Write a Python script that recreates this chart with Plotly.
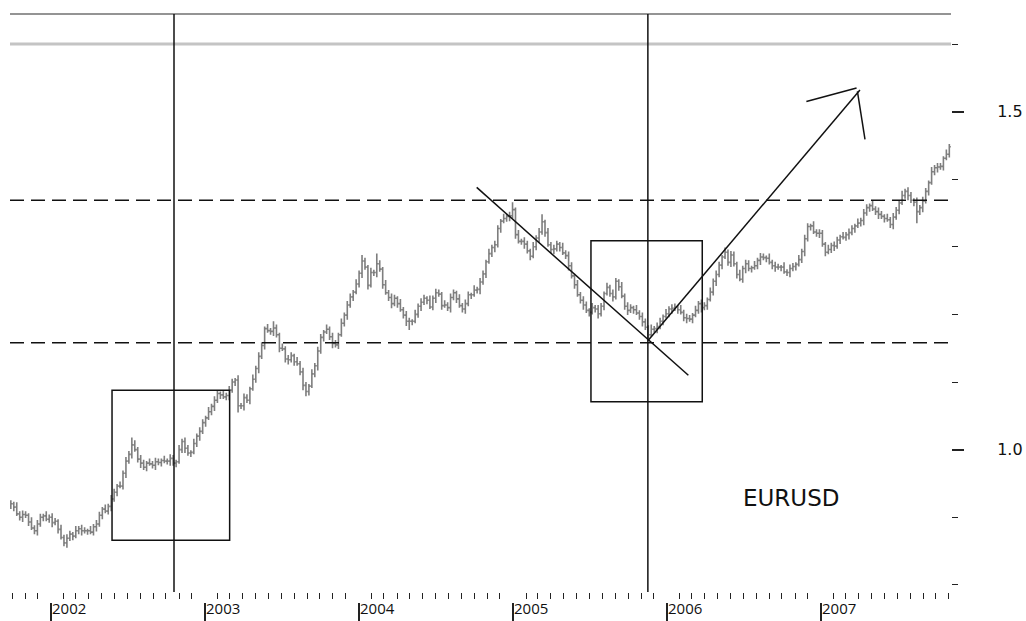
import pandas as pd
import plotly.graph_objects as go

# ---------------- data (weekly EURUSD) ----------------
START_DATE = "2001-09-28"
FIRST_OPEN = 0.916

CLOSE = [
    .920, .915, .905, .900, .904, .903, .893, .884, .880, .890,
    .900, .902, .897, .900, .892, .894, .882, .870, .862, .869,
    .875, .872, .880, .883, .880, .880, .880, .878, .886, .890,
    .903, .912, .909, .916, .927, .937, .946, .946, .965, .983,
    .993, 1.007, 1.000, .986, .980, .974, .980, .979, .977, .982,
    .981, .984, .983, .983, .987, .980, .982, 1.000, 1.012, 1.002,
    .995, .996, 1.009, 1.020, 1.027, 1.040, 1.047, 1.056, 1.064, 1.073,
    1.083, 1.081, 1.078, 1.080, 1.088, 1.100, 1.103, 1.065, 1.065, 1.077,
    1.073, 1.090, 1.104, 1.120, 1.138, 1.154, 1.179, 1.176, 1.175, 1.180,
    1.170, 1.150, 1.149, 1.134, 1.133, 1.139, 1.130, 1.127, 1.115, 1.095,
    1.086, 1.094, 1.112, 1.124, 1.146, 1.166, 1.174, 1.178, 1.167, 1.157,
    1.155, 1.170, 1.187, 1.199, 1.214, 1.226, 1.233, 1.245, 1.261, 1.279,
    1.270, 1.243, 1.262, 1.262, 1.275, 1.267, 1.244, 1.232, 1.225, 1.216,
    1.224, 1.216, 1.207, 1.199, 1.190, 1.190, 1.190, 1.200, 1.212, 1.218,
    1.224, 1.221, 1.211, 1.224, 1.232, 1.230, 1.213, 1.214, 1.210, 1.225,
    1.232, 1.223, 1.213, 1.208, 1.216, 1.229, 1.229, 1.236, 1.237, 1.248,
    1.260, 1.278, 1.290, 1.299, 1.303, 1.327, 1.338, 1.342, 1.345, 1.346,
    1.355, 1.318, 1.308, 1.308, 1.304, 1.294, 1.286, 1.300, 1.313, 1.322,
    1.337, 1.321, 1.303, 1.296, 1.297, 1.304, 1.299, 1.291, 1.287, 1.272,
    1.257, 1.244, 1.229, 1.221, 1.214, 1.206, 1.203, 1.210, 1.208, 1.201,
    1.212, 1.231, 1.240, 1.231, 1.226, 1.249, 1.241, 1.227, 1.212, 1.206,
    1.210, 1.207, 1.202, 1.197, 1.189, 1.181, 1.170, 1.178, 1.179, 1.182,
    1.190, 1.197, 1.201, 1.208, 1.209, 1.211, 1.207, 1.203, 1.195, 1.194,
    1.193, 1.199, 1.206, 1.216, 1.210, 1.213, 1.222, 1.233, 1.249, 1.259,
    1.273, 1.285, 1.292, 1.277, 1.288, 1.275, 1.259, 1.252, 1.268, 1.275,
    1.268, 1.269, 1.272, 1.280, 1.285, 1.284, 1.283, 1.277, 1.272, 1.270,
    1.270, 1.270, 1.263, 1.262, 1.268, 1.271, 1.274, 1.281, 1.293, 1.312,
    1.330, 1.331, 1.322, 1.320, 1.320, 1.304, 1.292, 1.296, 1.302, 1.301,
    1.310, 1.315, 1.314, 1.318, 1.321, 1.327, 1.331, 1.335, 1.339, 1.350,
    1.358, 1.361, 1.356, 1.352, 1.348, 1.345, 1.342, 1.340, 1.333, 1.344,
    1.354, 1.365, 1.376, 1.382, 1.376, 1.369, 1.366, 1.352, 1.358, 1.368,
    1.382, 1.395, 1.411, 1.417, 1.418, 1.419, 1.431, 1.437, 1.448,
]

HIGH = [
    .925, .923, .922, .909, .910, .909, .906, .900, .888, .896,
    .905, .905, .909, .904, .906, .899, .897, .889, .874, .875,
    .880, .878, .887, .887, .889, .885, .883, .887, .890, .896,
    .908, .915, .919, .920, .933, .942, .949, .953, .969, .989,
    .998, 1.018, 1.014, 1.004, .992, .985, .983, .987, .983, .988,
    .987, .987, .991, .987, .993, .992, .985, 1.007, 1.016, 1.018,
    1.007, .999, 1.016, 1.024, 1.033, 1.045, 1.050, 1.063, 1.068, 1.079,
    1.088, 1.086, 1.088, 1.084, 1.094, 1.105, 1.106, 1.110, 1.069, 1.083,
    1.082, 1.093, 1.111, 1.124, 1.144, 1.159, 1.182, 1.186, 1.180, 1.190,
    1.185, 1.173, 1.157, 1.153, 1.140, 1.144, 1.142, 1.137, 1.131, 1.121,
    1.100, 1.097, 1.119, 1.128, 1.152, 1.171, 1.177, 1.185, 1.182, 1.173,
    1.162, 1.173, 1.194, 1.203, 1.220, 1.231, 1.236, 1.252, 1.265, 1.288,
    1.284, 1.273, 1.269, 1.266, 1.290, 1.280, 1.270, 1.251, 1.236, 1.231,
    1.229, 1.227, 1.223, 1.211, 1.205, 1.195, 1.193, 1.207, 1.216, 1.224,
    1.229, 1.227, 1.228, 1.228, 1.238, 1.237, 1.233, 1.221, 1.218, 1.231,
    1.237, 1.235, 1.230, 1.217, 1.222, 1.234, 1.232, 1.243, 1.241, 1.254,
    1.265, 1.281, 1.297, 1.303, 1.309, 1.332, 1.341, 1.349, 1.349, 1.352,
    1.366, 1.358, 1.325, 1.312, 1.314, 1.309, 1.297, 1.307, 1.317, 1.328,
    1.348, 1.340, 1.328, 1.307, 1.303, 1.309, 1.307, 1.306, 1.295, 1.293,
    1.277, 1.260, 1.251, 1.233, 1.227, 1.219, 1.209, 1.217, 1.214, 1.214,
    1.217, 1.234, 1.247, 1.244, 1.237, 1.254, 1.252, 1.248, 1.231, 1.218,
    1.215, 1.213, 1.214, 1.206, 1.203, 1.194, 1.184, 1.185, 1.183, 1.188,
    1.195, 1.200, 1.208, 1.212, 1.215, 1.216, 1.214, 1.214, 1.207, 1.201,
    1.199, 1.202, 1.213, 1.220, 1.222, 1.218, 1.225, 1.240, 1.253, 1.265,
    1.278, 1.288, 1.299, 1.296, 1.294, 1.293, 1.278, 1.266, 1.272, 1.281,
    1.280, 1.272, 1.279, 1.284, 1.291, 1.290, 1.287, 1.290, 1.281, 1.278,
    1.275, 1.273, 1.277, 1.267, 1.274, 1.276, 1.277, 1.288, 1.297, 1.318,
    1.335, 1.334, 1.338, 1.326, 1.326, 1.325, 1.307, 1.303, 1.306, 1.308,
    1.315, 1.318, 1.322, 1.322, 1.327, 1.332, 1.334, 1.342, 1.343, 1.356,
    1.363, 1.364, 1.368, 1.360, 1.358, 1.353, 1.348, 1.349, 1.344, 1.350,
    1.359, 1.368, 1.383, 1.386, 1.388, 1.381, 1.372, 1.373, 1.362, 1.374,
    1.387, 1.398, 1.418, 1.421, 1.424, 1.424, 1.434, 1.444, 1.452,
]

LOW = [
    .912, .909, .902, .895, .893, .899, .887, .881, .875, .873,
    .886, .894, .894, .892, .885, .888, .876, .867, .857, .855,
    .865, .866, .869, .875, .873, .876, .874, .875, .873, .879,
    .886, .897, .906, .904, .909, .923, .931, .943, .941, .958,
    .979, .987, .997, .981, .973, .970, .968, .976, .972, .970,
    .977, .975, .980, .978, .976, .976, .974, .979, .995, .995,
    .991, .989, .993, 1.004, 1.013, 1.023, 1.034, 1.044, 1.051, 1.057,
    1.069, 1.075, 1.075, 1.073, 1.073, 1.084, 1.094, 1.055, 1.060, 1.058,
    1.069, 1.067, 1.087, 1.099, 1.113, 1.134, 1.148, 1.173, 1.170, 1.168,
    1.166, 1.144, 1.146, 1.129, 1.126, 1.129, 1.124, 1.124, 1.110, 1.088,
    1.079, 1.080, 1.091, 1.107, 1.117, 1.142, 1.160, 1.171, 1.162, 1.150,
    1.151, 1.149, 1.167, 1.182, 1.192, 1.210, 1.220, 1.230, 1.240, 1.254,
    1.266, 1.237, 1.240, 1.257, 1.255, 1.263, 1.238, 1.229, 1.220, 1.209,
    1.212, 1.210, 1.204, 1.194, 1.183, 1.177, 1.184, 1.187, 1.195, 1.205,
    1.214, 1.215, 1.208, 1.206, 1.217, 1.226, 1.207, 1.210, 1.205, 1.203,
    1.221, 1.217, 1.210, 1.203, 1.201, 1.212, 1.223, 1.226, 1.231, 1.230,
    1.244, 1.254, 1.275, 1.285, 1.292, 1.299, 1.321, 1.335, 1.337, 1.338,
    1.342, 1.312, 1.305, 1.303, 1.297, 1.290, 1.280, 1.283, 1.295, 1.306,
    1.318, 1.315, 1.300, 1.291, 1.289, 1.293, 1.293, 1.288, 1.282, 1.265,
    1.253, 1.238, 1.226, 1.216, 1.207, 1.202, 1.197, 1.200, 1.203, 1.194,
    1.197, 1.206, 1.228, 1.226, 1.219, 1.222, 1.235, 1.224, 1.207, 1.199,
    1.202, 1.201, 1.199, 1.192, 1.182, 1.177, 1.164, 1.167, 1.173, 1.172,
    1.178, 1.184, 1.194, 1.196, 1.201, 1.205, 1.201, 1.200, 1.190, 1.187,
    1.189, 1.187, 1.196, 1.201, 1.203, 1.206, 1.207, 1.219, 1.228, 1.242,
    1.255, 1.267, 1.282, 1.272, 1.270, 1.271, 1.253, 1.249, 1.247, 1.261,
    1.264, 1.262, 1.266, 1.267, 1.273, 1.280, 1.277, 1.274, 1.267, 1.263,
    1.266, 1.264, 1.260, 1.257, 1.255, 1.264, 1.265, 1.271, 1.276, 1.286,
    1.308, 1.324, 1.319, 1.315, 1.313, 1.300, 1.286, 1.289, 1.291, 1.294,
    1.297, 1.304, 1.311, 1.309, 1.311, 1.317, 1.321, 1.328, 1.330, 1.332,
    1.346, 1.352, 1.353, 1.347, 1.341, 1.341, 1.336, 1.337, 1.328, 1.326,
    1.340, 1.348, 1.362, 1.371, 1.369, 1.365, 1.360, 1.335, 1.347, 1.351,
    1.364, 1.376, 1.392, 1.406, 1.410, 1.414, 1.413, 1.428, 1.432,
]

YEARS = [2002, 2003, 2004, 2005, 2006, 2007]
Y_MAJOR_TICKS = [1.0, 1.5]
SERIES_NAME = "EURUSD"

# chart drawings (data coordinates)
RESISTANCE_LEVELS = [1.369, 1.158]          # dashed horizontals
GRAY_LEVEL = 1.6                             # light gray horizontal
VERTICAL_DATES = ["2002-10-20", "2005-11-17"]
BOXES = [("2002-05-26", "2003-03-01", 0.866, 1.088),
         ("2005-07-05", "2006-03-26", 1.071, 1.309)]
TREND_LINES = [("2004-10-07", 1.388, "2006-02-21", 1.110),
               ("2005-11-17", 1.161, "2007-04-04", 1.532),
               ("2007-03-27", 1.535, "2006-11-28", 1.515),
               ("2007-03-29", 1.530, "2007-04-16", 1.459)]
LABEL_POS = ("2006-10-24", 0.928)

X_RANGE = ["2001-09-26", "2007-11-06"]
Y_RANGE = [0.7894, 1.6444]

n = len(CLOSE)
dates = pd.date_range(START_DATE, periods=n, freq="7D")
OPEN = [FIRST_OPEN] + CLOSE[:-1]

BAR = "#7e7e7e"
INK = "#111111"

fig = go.Figure()
fig.add_trace(go.Ohlc(
    x=dates, open=OPEN, high=HIGH[:n], low=LOW[:n], close=CLOSE,
    increasing=dict(line=dict(color=BAR, width=1.6)),
    decreasing=dict(line=dict(color=BAR, width=1.6)),
    tickwidth=0.5, showlegend=False, hoverinfo="skip",
))
# helper trace so the year-separator axis is drawn
fig.add_trace(go.Scatter(
    x=[f"{y}-01-01" for y in YEARS], y=[None] * len(YEARS),
    xaxis="x2", yaxis="y", mode="markers", showlegend=False, hoverinfo="skip",
))

shapes = []
shapes.append(dict(type="line", xref="x domain", yref="y domain", x0=0, x1=1, y0=1, y1=1,
                   line=dict(color="#707070", width=1.5)))
shapes.append(dict(type="line", xref="x domain", yref="y", x0=0, x1=1, y0=GRAY_LEVEL, y1=GRAY_LEVEL,
                   line=dict(color="#c4c4c4", width=3)))
for lv in RESISTANCE_LEVELS:
    shapes.append(dict(type="line", xref="x domain", yref="y", x0=0, x1=1, y0=lv, y1=lv,
                       line=dict(color=INK, width=1.5, dash="14px,7px")))
for d in VERTICAL_DATES:
    shapes.append(dict(type="line", xref="x", yref="y domain", x0=d, x1=d, y0=0, y1=1,
                       line=dict(color=INK, width=1.5)))
for (xa, xb, ya, yb) in BOXES:
    shapes.append(dict(type="rect", xref="x", yref="y", x0=xa, x1=xb, y0=ya, y1=yb,
                       line=dict(color=INK, width=1.5), fillcolor="rgba(0,0,0,0)"))
for (xa, ya, xb, yb) in TREND_LINES:
    shapes.append(dict(type="line", xref="x", yref="y", x0=xa, x1=xb, y0=ya, y1=yb,
                       line=dict(color=INK, width=1.5)))

annotations = []
for yr in YEARS:
    annotations.append(dict(x=f"{yr}-01-01", xref="x", y=0, yref="paper", yanchor="top",
                            xanchor="left", xshift=0, yshift=5, borderpad=0, text=str(yr),
                            showarrow=False,
                            font=dict(family="Open Sans", size=15, color=INK)))
annotations.append(dict(x=LABEL_POS[0], y=LABEL_POS[1], xref="x", yref="y", text=SERIES_NAME,
                        showarrow=False, font=dict(family="DejaVu Sans", size=23, color=INK)))

H, W = 621, 1026
MT, MB = 14, 19
paper_h = H - MT - MB

fig.update_layout(
    width=W, height=H,
    margin=dict(l=10, r=75, t=MT, b=MB, pad=0, autoexpand=False),
    paper_bgcolor="white", plot_bgcolor="white",
    shapes=shapes, annotations=annotations,
    hovermode=False,
    xaxis=dict(type="date", range=X_RANGE, anchor="y", automargin=False, showgrid=False,
               zeroline=False, showline=False, showticklabels=False, ticks="outside",
               ticklen=0, tick0="2002-01-01", dtick="M12",
               minor=dict(dtick="M1", tick0="2002-01-01", ticks="outside", ticklen=6,
                          tickwidth=1.2, tickcolor="#222"),
               rangeslider=dict(visible=False), fixedrange=True),
    xaxis2=dict(type="date", range=X_RANGE, overlaying="x", anchor="free", position=0,
                side="bottom", automargin=False, showgrid=False, zeroline=False,
                showline=False, showticklabels=False, ticks="outside", ticklen=19,
                tickwidth=1.5, tickcolor="#222", tick0="2002-01-01", dtick="M12",
                fixedrange=True),
    yaxis=dict(domain=[10 / paper_h, 1], range=Y_RANGE, side="right", automargin=False,
               showgrid=False, zeroline=False, showline=False, tickmode="array",
               tickvals=Y_MAJOR_TICKS, tickformat=".1f", ticks="outside", ticklen=12,
               tickwidth=1.5, tickcolor="#222", ticklabelstandoff=30,
               tickfont=dict(family="DejaVu Sans", size=16, color=INK),
               minor=dict(dtick=0.1, tick0=0, ticks="outside", ticklen=6, tickwidth=1.2,
                          tickcolor="#222"),
               fixedrange=True),
)

fig.write_html(
    "out.html",
    config={"displayModeBar": False},
    post_script="document.body.style.margin='0';document.body.style.overflow='hidden';",
)
